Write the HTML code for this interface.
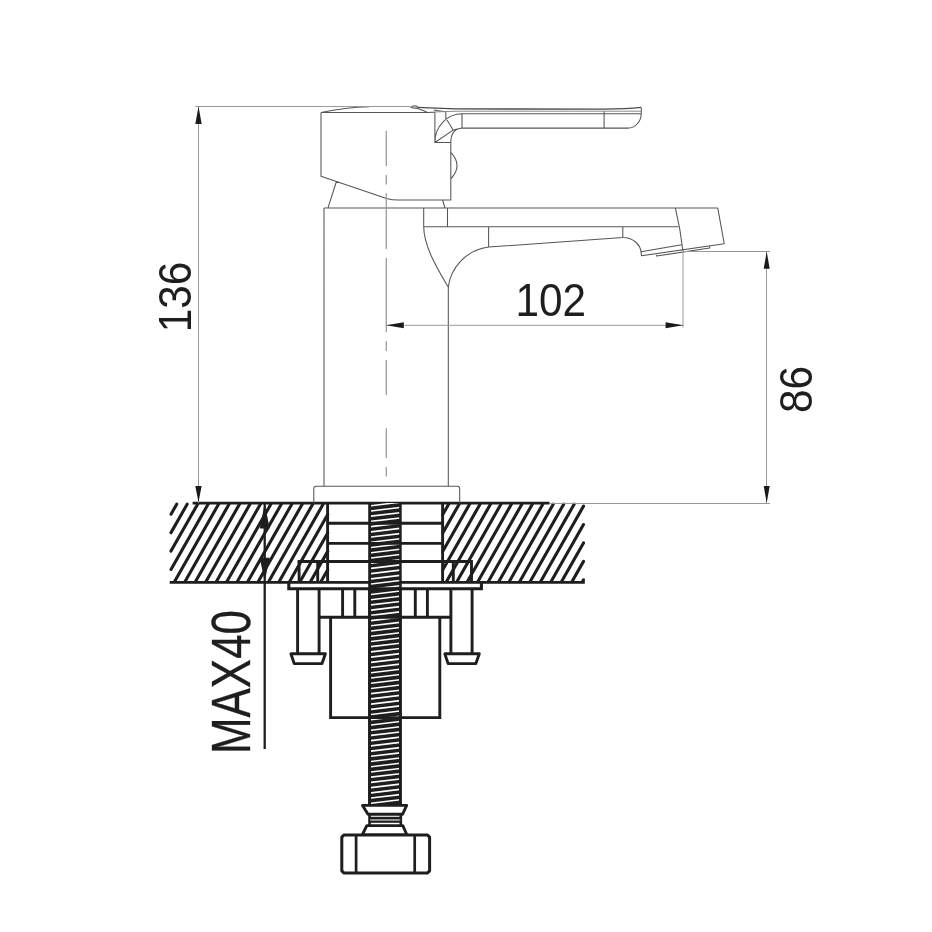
<!DOCTYPE html>
<html><head><meta charset="utf-8"><style>
html,body{margin:0;padding:0;background:#fff;width:932px;height:932px;overflow:hidden;}
svg{display:block;will-change:transform;}
</style></head><body>
<svg width="932" height="932" viewBox="0 0 932 932">
<rect width="932" height="932" fill="#fff"/>
<path d="M583.50,579.77L582.52,581.50M583.50,561.36L572.06,581.50M583.50,542.96L561.60,581.50M583.50,524.55L551.14,581.50M583.50,506.14L540.68,581.50M574.14,504.20L530.22,581.50M563.68,504.20L519.76,581.50M553.23,504.20L509.30,581.50M542.77,504.20L498.85,581.50M532.31,504.20L488.39,581.50M521.85,504.20L477.93,581.50M511.39,504.20L467.47,581.50M500.93,504.20L457.01,581.50M490.47,504.20L446.55,581.50M480.01,504.20L442.80,569.69M469.55,504.20L442.80,551.29M459.09,504.20L442.80,532.88M448.64,504.20L442.80,514.47M327.70,569.78L321.04,581.50M327.70,551.38L310.58,581.50M327.70,532.97L300.12,581.50M327.70,514.56L289.67,581.50M323.13,504.20L279.21,581.50M312.67,504.20L268.75,581.50M302.21,504.20L258.29,581.50M291.75,504.20L247.83,581.50M281.29,504.20L237.37,581.50M270.83,504.20L226.91,581.50M260.37,504.20L216.45,581.50M249.91,504.20L205.99,581.50M239.46,504.20L195.53,581.50M229.00,504.20L185.08,581.50M218.54,504.20L174.62,581.50M208.08,504.20L171.00,569.46M197.62,504.20L171.00,551.05M187.16,504.20L171.00,532.64M176.70,504.20L171.00,514.23" stroke="#1e1e1e" stroke-width="3.1" stroke-linecap="round" fill="none"/>
<path d="M192.6,503.1H549.5 M169.7,582.4H584.8" stroke="#1e1e1e" stroke-width="2.7" fill="none" />
<path d="M327.6,503V582.4 M442.6,503V582.4" stroke="#1e1e1e" stroke-width="2.9" fill="none" />
<rect x="368.2" y="503.0" width="33.5" height="301.2" fill="#1e1e1e"/>
<clipPath id="rodc"><rect x="371" y="503.0" width="28.2" height="301.2"/></clipPath>
<path d="M370,495.42L400,491.82M370,500.64L400,497.04M370,505.86L400,502.26M370,511.08L400,507.48M370,516.30L400,512.70M370,521.52L400,517.92M370,526.74L400,523.14M370,531.96L400,528.36M370,537.18L400,533.58M370,542.40L400,538.80M370,547.62L400,544.02M370,552.84L400,549.24M370,558.06L400,554.46M370,563.28L400,559.68M370,568.50L400,564.90M370,573.72L400,570.12M370,578.94L400,575.34M370,584.16L400,580.56M370,589.38L400,585.78M370,594.60L400,591.00M370,599.82L400,596.22M370,605.04L400,601.44M370,610.26L400,606.66M370,615.48L400,611.88M370,620.70L400,617.10M370,625.92L400,622.32M370,631.14L400,627.54M370,636.36L400,632.76M370,641.58L400,637.98M370,646.80L400,643.20M370,652.02L400,648.42M370,657.24L400,653.64M370,662.46L400,658.86M370,667.68L400,664.08M370,672.90L400,669.30M370,678.12L400,674.52M370,683.34L400,679.74M370,688.56L400,684.96M370,693.78L400,690.18M370,699.00L400,695.40M370,704.22L400,700.62M370,709.44L400,705.84M370,714.66L400,711.06M370,719.88L400,716.28M370,725.10L400,721.50M370,730.32L400,726.72M370,735.54L400,731.94M370,740.76L400,737.16M370,745.98L400,742.38M370,751.20L400,747.60M370,756.42L400,752.82M370,761.64L400,758.04M370,766.86L400,763.26M370,772.08L400,768.48M370,777.30L400,773.70M370,782.52L400,778.92M370,787.74L400,784.14M370,792.96L400,789.36M370,798.18L400,794.58M370,803.40L400,799.80M370,808.62L400,805.02M370,813.84L400,810.24" stroke="#fff" stroke-width="1.6" clip-path="url(#rodc)" fill="none"/>
<path d="M327.6,523.3H442.6 M327.6,543.4H442.6 M297.6,561.5H472.9" stroke="#1e1e1e" stroke-width="2.9" fill="none" />
<path d="M299.1,561.5V582.4 M317.7,561.5V582.4 M453.3,561.5V582.4 M471.5,561.5V582.4" stroke="#1e1e1e" stroke-width="2.9" fill="none" />
<path d="M288.8,582.4V588.8H481.4V582.4" stroke="#1e1e1e" stroke-width="3.1" fill="none" />
<path d="M297.6,588.8V653.8 M319.1,588.8V653.8 M450.9,588.8V653.8 M472.1,588.8V653.8" stroke="#1e1e1e" stroke-width="2.9" fill="none" />
<path d="M319.1,617.2H450.9 M342.6,588.8V617.2 M354.8,588.8V617.2 M415.3,588.8V617.2 M427.4,588.8V617.2" stroke="#1e1e1e" stroke-width="2.9" fill="none" />
<path d="M290.9,653.8H325.4L322,663.6H294.2Z M444.8,653.8H479.3L475.9,663.6H448.1Z" stroke="#1e1e1e" stroke-width="2.9" fill="#fff" stroke-linejoin="round"/>
<path d="M330.6,617.2V717.6H439.8V617.2" stroke="#1e1e1e" stroke-width="2.9" fill="none" />
<path d="M369.5,589V804.2 M400.4,589V804.2" stroke="#1e1e1e" stroke-width="2.7" fill="none" />
<path d="M369.5,814V826 M400.8,814V826" stroke="#1e1e1e" stroke-width="2.6" fill="none" />
<path d="M370,817.9H400.4" stroke="#1e1e1e" stroke-width="2.2" fill="none" />
<path d="M370,820H400.4" stroke="#777" stroke-width="1.6"/>
<path d="M370,821.9H400.4" stroke="#1e1e1e" stroke-width="1.8" fill="none" />
<path d="M362.5,805.4H406.7L402.5,814.3H368Z" stroke="#1e1e1e" stroke-width="2.9" fill="#fff" stroke-linejoin="round"/>
<path d="M366.8,825.6H402.8L407,835H362.2Z" stroke="#1e1e1e" stroke-width="2.9" fill="#fff" stroke-linejoin="round"/>
<path d="M343.8,835.1H427.6L429.6,837.1V870.9L427.6,872.9H343.8L341.8,870.9V837.1Z" stroke="#1e1e1e" stroke-width="3" fill="#fff" stroke-linejoin="round"/>
<path d="M356.1,835.1V872.9 M414.7,835.1V872.9" stroke="#1e1e1e" stroke-width="2.7" fill="none" />
<path d="M264.7,503.5V749" stroke="#1e1e1e" stroke-width="2.3" fill="none"/>
<path d="M264.7,503.8L259.7,528.4H269.7Z M264.7,581.6L259.7,557.8H269.7Z" fill="#1e1e1e"/>
<path transform="translate(0.3,0.3)" d="M320.7,112.2Q345,107 369,106.5 M320.7,112.2H434.6 M320.7,112.2V175.9L386.2,198.1Q392,199.7 398,199.7H450.5V142.2H434.6V112.2 M450.5,152Q463,165.3 450.5,178.6 M641,107.4V113.3 M461.7,113.5H641 M461.7,127.8H627.4C635,127.8 641,121 641,113.3 M603.8,110.6V127.8 M461.7,113.5V127.8 M445.5,111V117.7 M434.6,142.2A27.1,28.7 0 0 1 461.7,113.5 M445.5,117.7L452.8,129.8 M434.6,142.2L452.8,129.8L461.7,127.8 M450.5,142.2C450.5,134 454,128.5 461.7,127.8 M416,107.6Q422,109.5 426.6,111.9 M433.5,109.8Q440,111.2 445.5,111.4 M336.1,181.2L327.7,207.5 M442.3,199.7L444.7,207.7 M323.7,207.7H717.5 M323.7,207.7V486 M448,287V486 M423.4,207.7V226.3 M447.2,207.7V226.3 M423.4,226.3L678.1,226.5 M488.3,226.5V246.8 M622.5,226.5V237.2 M423.4,226.3C423.5,245 435,265 448,287 M448,287C450,268 465,250 488.3,246.8L622.5,237.2C632,237 640,244 640.7,251.5L641.3,255.5L723.9,243.4L717.5,207.8 M640.7,251.5L681.5,244.5 M675.1,207.8Q680,228 682.6,250.4 M656.3,253.4V255.8L709.4,247.8V245.6 M313.5,503V488.5Q313.5,486 316,486H457Q459.4,486 459.4,488.5V503" stroke="#555" stroke-width="1.05" fill="none" stroke-linejoin="round"/>
<path transform="translate(0.3,0.3)" d="M410,106.9L455,108.65L601,108.75Q625,108.85 641,107.1" stroke="#4a4a4a" stroke-width="1.3" fill="none"/>
<path transform="translate(0.3,0.3)" d="M430,111.9Q445,111.0 460,110.9H641" stroke="#8a8a8a" stroke-width="1" fill="none"/>
<ellipse cx="414.7" cy="107.1" rx="3.3" ry="1.3" stroke="#555" stroke-width="0.9" fill="#b8b8b8"/>
<path d="M386.3,130.7V166.1M386.3,174.9V184.4M386.3,193.3V249.0M386.3,258.1V332.2M386.3,341.3V350.9M386.3,360.0V394.9M386.3,428.3V457.9M386.3,467.1V476.4" stroke="#9c9c9c" stroke-width="1.3" fill="none"/>
<path d="M195.2,106.5H410 M198.5,106.5V503 M386.3,325.3H683.1 M683.0,250V327.5 M683.5,251.5H769.8 M766.5,251.4V503.3 M549.5,503.5H770" stroke="#999" stroke-width="1" fill="none"/>
<path d="M198.5,106.4L195.3,124.1H201.7Z M198.5,502.5L195.3,486.1H201.6Z M386.3,325.3L403.8,322.3V328.3Z M683.1,325.3L665.6,322.3V328.3Z M766.7,251.6L763.7,268.8H769.7Z M766.7,503L763.7,486.1H769.7Z" fill="#1a1a1a"/>
<text font-family="'Liberation Sans', sans-serif" fill="#1e1e1e" font-size="45.5" transform="translate(190.8,296.9) rotate(-90) scale(0.93,1)" text-anchor="middle">136</text>
<text font-family="'Liberation Sans', sans-serif" fill="#1e1e1e" font-size="45.5" transform="translate(550.7,315.5) scale(0.93,1)" text-anchor="middle">102</text>
<text font-family="'Liberation Sans', sans-serif" fill="#1e1e1e" font-size="45.5" transform="translate(811.5,389.6) rotate(-90) scale(0.93,1)" text-anchor="middle">86</text>
<text font-family="'Liberation Sans', sans-serif" fill="#1e1e1e" stroke="#1e1e1e" stroke-width="0.35" font-size="56.1" transform="translate(249.8,682) rotate(-90) scale(0.782,1)" text-anchor="middle">MAX40</text>
</svg>
</body></html>
